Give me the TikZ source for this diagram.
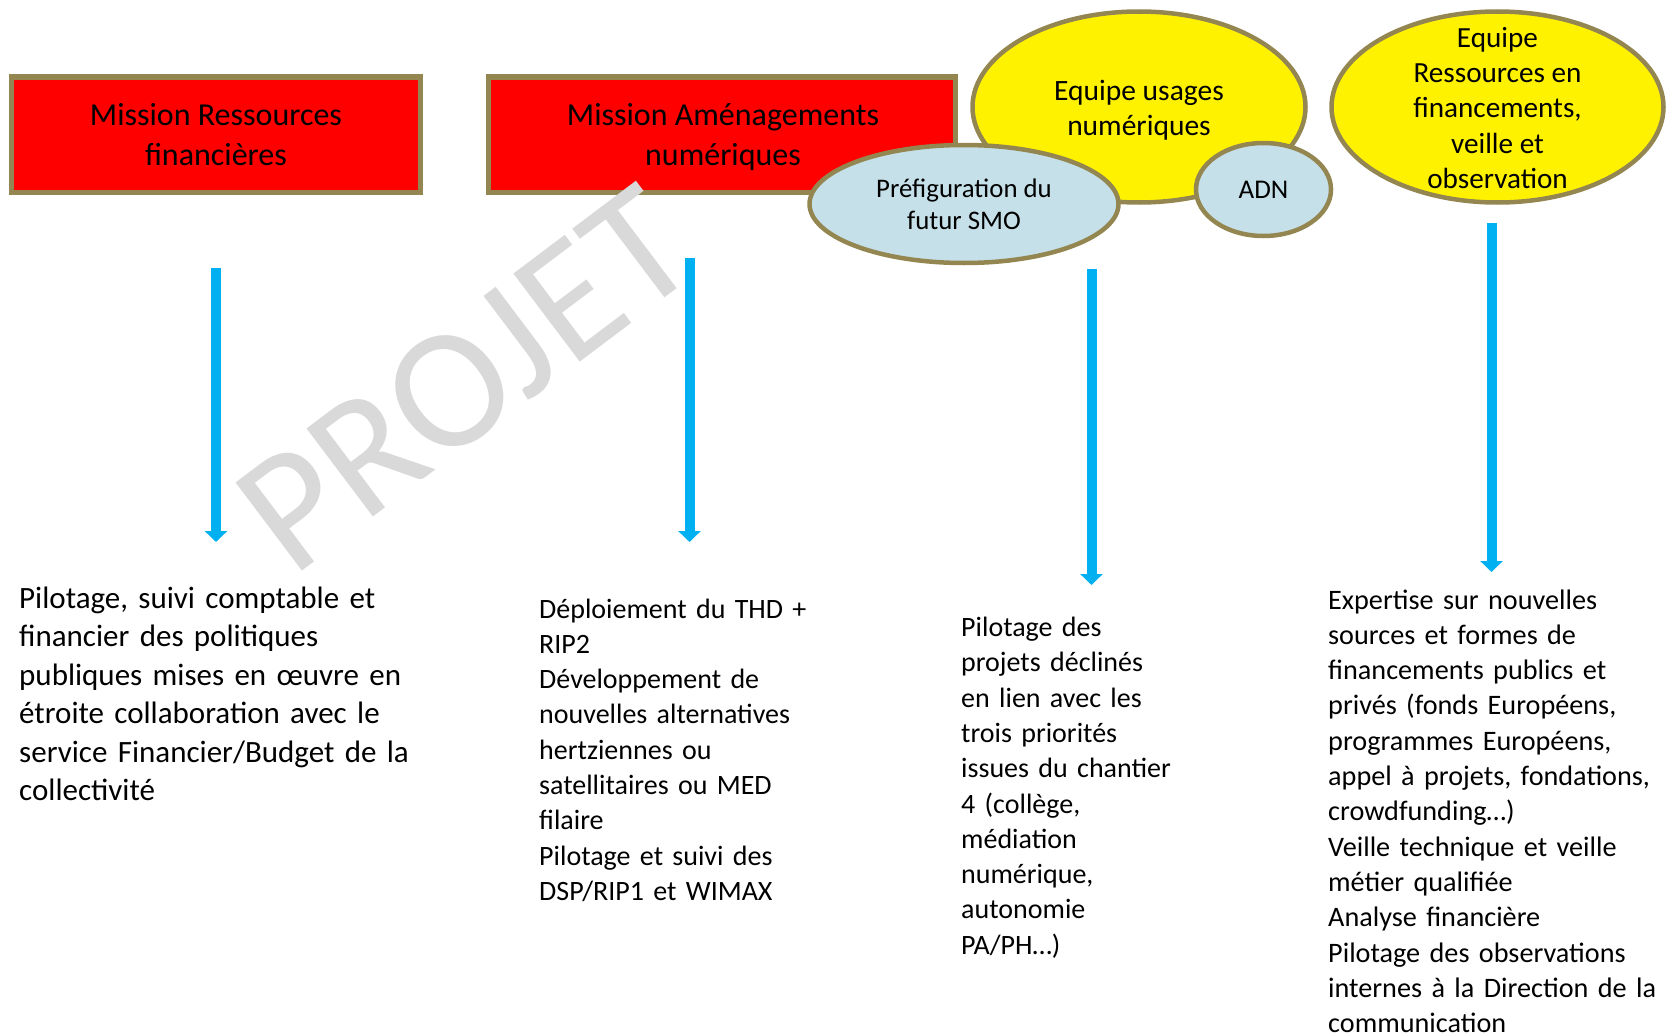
\documentclass[tikz,border=0pt]{standalone}
\usepackage{fontspec}
\setmainfont{Carlito}
\usetikzlibrary{shapes.geometric,arrows.meta}

\definecolor{bordolive}{RGB}{148,134,80}
\definecolor{bleufleche}{RGB}{0,176,240}
\definecolor{bleuclair}{RGB}{197,224,232}
\definecolor{grisfiligrane}{RGB}{217,217,217}

\begin{document}
\begin{tikzpicture}[x=1pt,y=-1pt,
        mission/.style={draw=bordolive,line width=5pt,fill=red,minimum width=409pt,minimum height=115pt,inner sep=0pt},
        titre/.style={inner sep=0pt,align=center,font=\fontsize{32}{40}\selectfont},
        equipe/.style={ellipse,draw=bordolive,line width=4.5pt,fill=yellow,inner sep=0pt,align=center},
        sousequipe/.style={ellipse,draw=bordolive,line width=4.5pt,fill=bleuclair,inner sep=0pt,
            align=center,font=\fontsize{26.8}{32}\selectfont},
        fleche/.style={draw=bleufleche,line width=10pt,-{Triangle[width=22pt,length=11pt]}},
        texte/.style={anchor=base west,inner sep=0pt,text width=420pt,align=left}]
        \useasboundingbox (0,0) rectangle (1673,1033);

        % en-tetes
        \node[mission] (mrf) at (216,134.5) {};
        \node[titre] (mrftexte) at (216,135) {Mission Ressources\\financières};
        \node[mission,minimum width=467pt] (man) at (722,134.5) {};
        \node[titre] (mantexte) at (723,137.5) {Mission Aménagements\\numériques};
        \node[equipe,minimum width=333pt,minimum height=191pt] (eun) at (1139,107) {};
        \node[align=center,inner sep=0pt,font=\fontsize{29.5}{35}\selectfont] (euntexte) at (1139,110) {Equipe usages\\numériques};
        \node[sousequipe,minimum width=309pt,minimum height=118pt] (smo) at (964,204) {Préfiguration du\\futur SMO};
        \node[equipe,minimum width=332pt,minimum height=191pt] (erf) at (1497.5,107) {};
        \node[align=center,inner sep=0pt,font=\fontsize{29.2}{35.3}\selectfont] (erftexte) at (1497.5,108) {Equipe\\Ressources en\\financements,\\veille et\\observation};
        \node[sousequipe,minimum width=135pt,minimum height=93pt,font=\fontsize{27}{32}\selectfont] (adn) at (1263.5,189.5) {ADN};

        \node[rotate=37,text=grisfiligrane,inner sep=0pt,font=\fontsize{172}{172}\selectfont] (filigrane) at (465,379) {PROJET};

        % fleches
        \coordinate (f1h) at (216,268);
        \coordinate (f1b) at (216,542);
        \coordinate (f2h) at (689.5,258);
        \coordinate (f2b) at (689.5,542);
        \coordinate (f3h) at (1091.5,269);
        \coordinate (f3b) at (1091.5,585);
        \coordinate (f4h) at (1491.5,223);
        \coordinate (f4b) at (1491.5,572);
        \draw[fleche] (f1h) -- (f1b);
        \draw[fleche] (f2h) -- (f2b);
        \draw[fleche] (f3h) -- (f3b);
        \draw[fleche] (f4h) -- (f4b);

        % missions
        \node[texte,font=\fontsize{31}{38.5}\selectfont] (txtrf) at (19,608) {Pilotage, suivi comptable et\\financier des politiques\\publiques mises en œuvre en\\étroite collaboration avec le\\service Financier/Budget de la\\collectivité};
        \node[texte,font=\fontsize{28}{35.3}\selectfont] (txtan) at (539,618) {Déploiement du THD +\\RIP2\\Développement de\\nouvelles alternatives\\hertziennes ou\\satellitaires ou MED\\filaire\\Pilotage et suivi des\\DSP/RIP1 et WIMAX};
        \node[texte,font=\fontsize{28}{35.3}\selectfont] (txtun) at (961,636.5) {Pilotage des\\projets déclinés\\en lien avec les\\trois priorités\\issues du chantier\\4 (collège,\\médiation\\numérique,\\autonomie\\PA/PH…)};
        \node[texte,font=\fontsize{28.2}{35.3}\selectfont] (txtrs) at (1328,609) {Expertise sur nouvelles\\sources et formes de\\financements publics et\\privés (fonds Européens,\\programmes Européens,\\appel à projets, fondations,\\crowdfunding…)\\Veille technique et veille\\métier qualifiée\\Analyse financière\\Pilotage des observations\\internes à la Direction de la\\communication};
    \end{tikzpicture}
\end{document}
